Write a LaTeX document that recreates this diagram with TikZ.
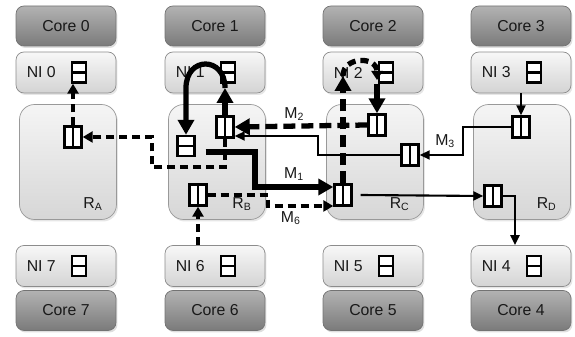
\documentclass[tikz,border=0pt]{standalone}
\usepackage{fontspec}
\setmainfont{Liberation Sans}
\usetikzlibrary{arrows.meta, positioning, shadows}

\tikzset{
  txt/.style={font=\fontsize{9}{11}\selectfont, text=black!90},
  core/.style={txt, draw=black!55, rounded corners=0.16cm, top color=black!30, bottom color=black!52,
    minimum width=2cm, minimum height=0.8cm,
    drop shadow={opacity=0.25, shadow xshift=0.03cm, shadow yshift=-0.04cm}},
  ni/.style={draw=black!45, rounded corners=0.16cm, top color=black!3, bottom color=black!17,
    minimum width=2cm, minimum height=0.82cm,
    drop shadow={opacity=0.2, shadow xshift=0.03cm, shadow yshift=-0.04cm}},
  router/.style={draw=black!40, rounded corners=0.3cm, top color=black!4, bottom color=black!16,
    minimum width=1.94cm, minimum height=2.3cm,
    drop shadow={opacity=0.2, shadow xshift=0.03cm, shadow yshift=-0.04cm}},
  hbuf/.style={draw, line width=1.4pt, fill=white, inner sep=0pt,
    minimum width=0.28cm, minimum height=0.4cm,
    path picture={\draw[line width=1.2pt] (path picture bounding box.west) -- (path picture bounding box.east);}},
  vbuf/.style={draw, line width=1.4pt, fill=white, inner sep=0pt,
    minimum width=0.34cm, minimum height=0.42cm,
    path picture={\draw[line width=1.2pt] (path picture bounding box.north) -- (path picture bounding box.south);}},
  thinarr/.style={line width=1.2pt, -{Triangle[length=0.2cm, width=0.18cm]}},
  dmed/.style={line width=2pt, dash pattern=on 0.16cm off 0.1cm, -{Triangle[length=0.2cm, width=0.22cm]}},
  dthick/.style={line width=3pt, dash pattern=on 0.24cm off 0.12cm, -{Triangle[length=0.3cm, width=0.32cm]}},
  sthick/.style={line width=3pt, -{Triangle[length=0.3cm, width=0.32cm]}},
  lbl/.style={txt, inner sep=1pt}
}

\begin{document}
\begin{tikzpicture}[x=0.02cm, y=-0.02cm]
    \useasboundingbox (0,0) rectangle (575,337);

    % cores and network interfaces, top row
    \foreach \k/\x in {0/66, 1/215, 2/373, 3/521} {
        \node[core] (core\k) at (\x,26) {Core \k};
        \node[ni] (ni\k) at (\x,72.5) {};
        \node[lbl, anchor=west] (nit\k) at ([xshift=0.18cm]ni\k.west) {NI \k};
        \node[hbuf, right=0.26cm of nit\k] (bN\k) {};
    }
    % cores and network interfaces, bottom row
    \foreach \k/\x in {7/66, 6/215, 5/373, 4/521} {
        \node[core] (core\k) at (\x,310.5) {Core \k};
        \node[ni] (ni\k) at (\x,266) {};
        \node[lbl, anchor=west] (nit\k) at ([xshift=0.18cm]ni\k.west) {NI \k};
        \node[hbuf, right=0.26cm of nit\k] (bN\k) {};
    }

    % routers
    \foreach \r/\x in {A/68, B/217, C/375, D/522} {
        \node[router] (r\r) at (\x,162) {};
        \node[lbl, anchor=south east] at ([shift={(-0.24cm,0.14cm)}]r\r.south east) {R\textsubscript{\r}};
    }

    % router buffers
    \node[vbuf] (bA) at (73,137) {};
    \node[vbuf] (bB1) at (225,127) {};
    \node[hbuf, minimum width=0.34cm] (bB2) at (186,146) {};
    \node[vbuf] (bB3) at (198,195) {};
    \node[vbuf] (bC1) at (377,125) {};
    \node[vbuf] (bC2) at (410,155) {};
    \node[vbuf] (bC3) at (343,195) {};
    \node[vbuf] (bD1) at (521,127) {};
    \node[vbuf] (bD2) at (493,196) {};

    % turning points at the interfaces
    \coordinate (up1) at (bB1.north |- 0,88);
    \coordinate (dn1) at (bB2.north |- 0,88);
    \coordinate (up2) at (bC3.north |- 0,76);
    \coordinate (dn2) at (bC1.north |- 0,84);

    % M2 and its way back to NI 0
    \draw[dthick] (bC1.west) -- (bB1.east) node[lbl, above=0.02cm, pos=0.55] {M\textsubscript{2}};
    \draw[dmed] (bB1.south) |- (152,167) |- (bA.east);
    \draw[dmed] (bA.north) -- (bA.north |- bN0.south);

    % loop through NI 1
    \draw[sthick] (bB1.north) -- (up1);
    \draw[sthick] (up1) .. controls (225,56) and (186,56) .. (dn1) -- (bB2.north);

    % M1
    \draw[sthick] ([shift={(0.2cm,-0.12cm)}]bB2.east) -| (255,187)
        -- (bC3.west |- 0,187) node[lbl, above=0.05cm, midway] {M\textsubscript{1}};

    % M6 from NI 6
    \draw[dmed] (ni6.north -| bB3) -- (bB3.south);
    \draw[dmed] (bB3.east) -| (268,206)
        -- (bC3.west |- 0,206) node[lbl, below=0.05cm, pos=0.35] {M\textsubscript{6}};

    % loop through NI 2
    \draw[dthick] (bC3.north) -- (up2);
    \draw[line width=3pt, dash pattern=on 0.16cm off 0.1cm, -{Triangle[length=0.18cm, width=0.22cm]}]
        (up2) .. controls (343,56) and (377,56) .. (bC1.north |- 0,80);
    \draw[sthick] (dn2) -- (bC1.north);

    % M3 from NI 3
    \draw[thinarr] (ni3.south -| bD1) -- (bD1.north);
    \draw[thinarr] (bD1.west) -| (463,155) node[lbl, left=0.1cm, pos=0.75] {M\textsubscript{3}} -- (bC2.east);
    \draw[thinarr] (bC2.west) -| (318,136) -- (bB1.east |- 0,136);

    % on to NI 4
    \draw[thinarr] ([xshift=0.16cm]bC3.east) -- (bD2.west);
    \draw[thinarr] (bD2.east) -| (ni4.north -| 515,0);
\end{tikzpicture}
\end{document}
